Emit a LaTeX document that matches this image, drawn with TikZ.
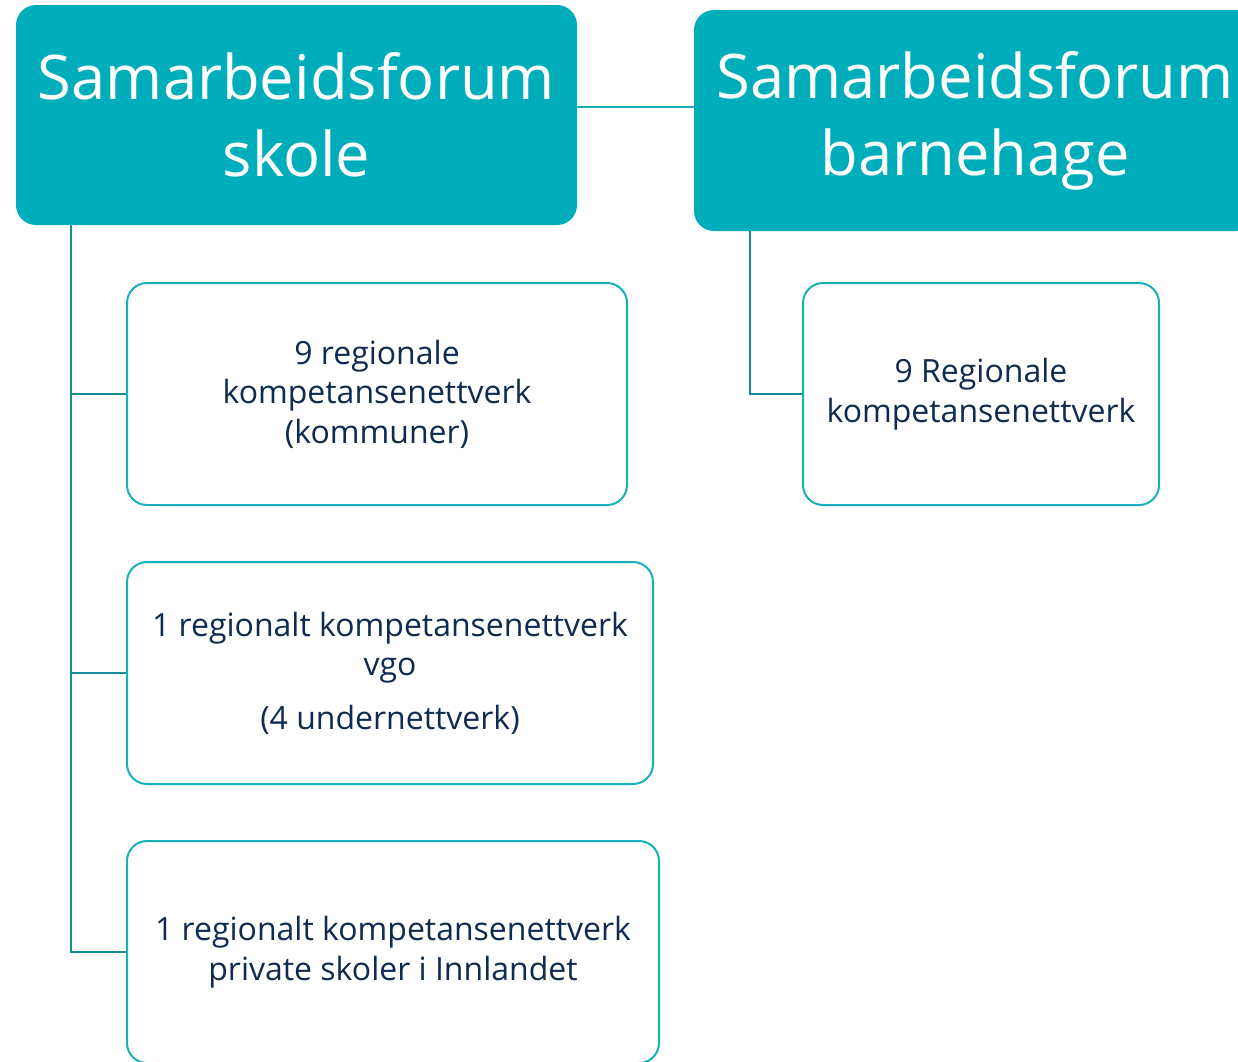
\documentclass[tikz,border=0pt]{standalone}
\usepackage{fontspec}
\setmainfont{Open Sans}
\definecolor{teal1}{HTML}{00AEBB}
\definecolor{tealedge}{HTML}{17B1BD}
\definecolor{treeline}{HTML}{148C96}
\definecolor{navy}{HTML}{0F2B50}
\tikzset{
  head/.style={fill=teal1, draw=none, rounded corners=20pt, inner sep=0pt, align=center,
    text=white, font=\fontsize{61.5}{77}\selectfont},
  sub/.style={fill=white, draw=tealedge, line width=2pt, rounded corners=20pt, inner sep=0pt,
    align=center, text=navy, font=\fontsize{32}{39.5}\selectfont, minimum height=222pt},
  tree/.style={draw=treeline, line width=2pt},
  link/.style={draw=tealedge, line width=2pt}
}
\begin{document}
\begin{tikzpicture}[x=1pt,y=-1pt]
\useasboundingbox (0,0) rectangle (1238,1061);
\clip (0,0) rectangle (1238,1061);
\node[head, minimum width=561pt, minimum height=220pt] (A) at (296.5,115) {Samarbeidsforum\\skole};
\node[head, minimum width=562pt, minimum height=221pt] (B) at (975,120.5) {Samarbeidsforum\\barnehage};
\node[sub, minimum width=500pt] (b1) at (377,394) {9 regionale\\kompetansenettverk\\(kommuner)};
\node[sub, minimum width=526pt] (b2) at (390,673) {1 regionalt kompetansenettverk\\vgo\\[14pt](4 undernettverk)};
\node[sub, minimum width=532pt] (b3) at (393,952) {1 regionalt kompetansenettverk\\private skoler i Innlandet};
\node[sub, minimum width=356pt] (b4) at (981,394) {9 Regionale\\kompetansenettverk};
\draw[link] (A.east |- 0,107) -- (B.west |- 0,107);
\draw[tree] ([xshift=55pt]A.south west) |- (b1.west);
\draw[tree] ([xshift=55pt]A.south west) |- (b2.west);
\draw[tree] ([xshift=55pt]A.south west) |- (b3.west);
\draw[tree] ([xshift=56pt]B.south west) |- (b4.west);
\end{tikzpicture}
\end{document}
